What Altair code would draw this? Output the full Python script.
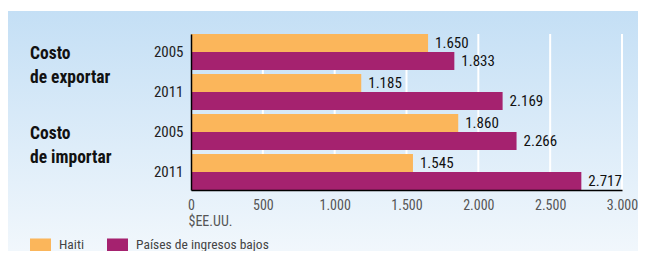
import altair as alt
import pandas as pd

categories = ["Costo de exportar", "Costo de exportar", "Costo de importar", "Costo de importar"]
years = ["2005", "2011", "2005", "2011"]
series = ["Haiti", "Países de ingresos bajos"]
haiti = [1650, 1185, 1860, 1545]
bajos = [1833, 2169, 2266, 2717]
x_ticks = [0, 500, 1000, 1500, 2000, 2500, 3000]
grid_ticks = [500, 1000, 1500, 2000, 2500, 3000]
group_labels = ["Costo\nde exportar", "Costo\nde importar"]
colors = ["#fbb65b", "#a5226f"]

FONT = "Liberation Sans Narrow, Noto Sans Condensed, Roboto Condensed, Roboto, sans-serif"

keys = [f"{c}|{y}" for c, y in zip(categories, years)]
rows = []
for k, h, b in zip(keys, haiti, bajos):
    rows.append({"key": k, "serie": series[0], "valor": h})
    rows.append({"key": k, "serie": series[1], "valor": b})
df = pd.DataFrame(rows)

grp_df = pd.DataFrame({"key": [keys[0], keys[2]], "label": group_labels})
grid_df = pd.DataFrame({"g": grid_ticks})

W, H = 431, 156
PL, PT = 183, 26
TOTW, TOTH = 630, 243

y_enc = alt.Y(
    "key:N",
    sort=keys,
    scale=alt.Scale(domain=keys, paddingInner=0.1, paddingOuter=0),
    axis=alt.Axis(
        title=None,
        labelExpr="split(datum.label, '|')[1]",
        ticks=False,
        domainColor="black",
        domainWidth=1.5,
        labelFontSize=15,
        labelColor="#222",
        labelPadding=8,
        labelFont=FONT,
        zindex=1,
    ),
)

x_enc = alt.X(
    "valor:Q",
    scale=alt.Scale(domain=[0, 3000], nice=False),
    axis=alt.Axis(
        values=x_ticks,
        labelExpr="replace(format(datum.value, ','), ',', '.')",
        grid=False,
        ticks=False,
        domainColor="black",
        domainWidth=1.5,
        labelColor="#555",
        labelFontSize=14,
        labelFont=FONT,
        labelPadding=8,
        labelFlush=False,
        labelOverlap=False,
        title="$EE.UU.",
        titleX=-3,
        titleY=31,
        titleAlign="left",
        titleAnchor="start",
        titleBaseline="middle",
        titleFontWeight="normal",
        titleColor="#555",
        titleFontSize=14,
        titleFont=FONT,
        zindex=1,
    ),
)

bg = alt.Chart(alt.Data(values=[{"a": 1}])).mark_rect(
    color=alt.Gradient(
        gradient="linear",
        x1=0, y1=0, x2=0, y2=1,
        stops=[
            alt.GradientStop(color="#c4dff5", offset=0),
            alt.GradientStop(color="#f1f7fc", offset=1),
        ],
    )
).encode(
    x=alt.value(-PL),
    x2=alt.value(TOTW - PL),
    y=alt.value(3 - PT),
    y2=alt.value(TOTH - PT),
)

grid = alt.Chart(grid_df).mark_rule(color="white", strokeWidth=2).encode(
    x=alt.X("g:Q", scale=alt.Scale(domain=[0, 3000], nice=False))
)

bars = alt.Chart(df).mark_bar().encode(
    x=x_enc,
    y=y_enc,
    yOffset=alt.YOffset("serie:N", sort=series, scale=alt.Scale(domain=series, paddingInner=0, paddingOuter=0)),
    color=alt.Color(
        "serie:N",
        scale=alt.Scale(domain=series, range=colors),
        legend=alt.Legend(
            orient="none",
            legendX=-161,
            legendY=200,
            direction="horizontal",
            title=None,
            symbolType="M-1,-0.62H1V0.62H-1Z",
            symbolSize=441,
            symbolStrokeWidth=0,
            symbolOpacity=1,
            labelFontSize=13.5,
            labelFont=FONT,
            labelColor="#444",
            labelOffset=8,
            columnPadding=22,
            padding=0,
        ),
    ),
)

vals = alt.Chart(df).transform_calculate(
    lbl="replace(format(datum.valor, ','), ',', '.')"
).mark_text(
    align="left", baseline="middle", dx=7, fontSize=15, font=FONT, color="#111"
).encode(
    x="valor:Q",
    y=alt.Y("key:N", sort=keys),
    yOffset=alt.YOffset("serie:N", sort=series),
    text="lbl:N",
)

grp = alt.Chart(grp_df).mark_text(
    align="left", baseline="middle", dy=2, fontSize=17.5, fontWeight="bold",
    font=FONT, color="#111", lineBreak="\n", lineHeight=24,
).encode(
    x=alt.value(-161),
    y=alt.Y("key:N", sort=keys),
    text="label:N",
)

chart = alt.layer(bg, grid, bars, vals, grp).properties(
    width=W,
    height=H,
    autosize=alt.AutoSizeParams(type="none"),
    padding={"left": PL, "top": PT, "right": TOTW - PL - W, "bottom": TOTH - PT - H},
    background="white",
).configure_view(stroke=None)

chart.save("out.html", embed_options={"renderer": "svg", "actions": False})
